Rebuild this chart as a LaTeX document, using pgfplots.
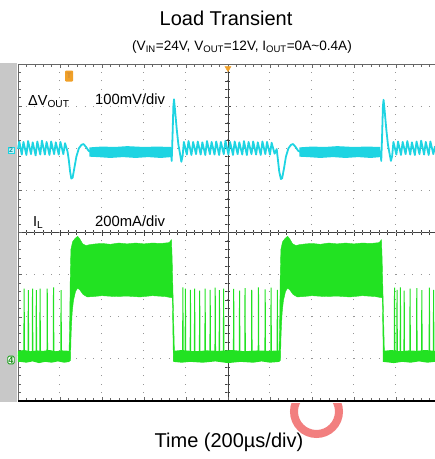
\documentclass[border=0pt]{standalone}
\usepackage{pgfplots}
\pgfplotsset{compat=1.18}
\usepackage{fontspec}
\setmainfont{Liberation Sans}
\definecolor{scopecyan}{RGB}{30,212,226}
\definecolor{scopegreen}{RGB}{34,226,34}
\definecolor{gridgray}{RGB}{150,150,150}
\definecolor{stripgray}{RGB}{200,200,200}
\definecolor{trigorange}{RGB}{240,160,40}
\definecolor{ringred}{RGB}{240,105,105}
\begin{document}
\begin{tikzpicture}
% centre cross of the scope screen
\begin{axis}[at={(0,0)}, anchor=south west, scale only axis, width=417pt, height=337pt,
  xmin=-5, xmax=4.93, ymin=-4, ymax=4,
  axis lines*=middle, axis line style={black!75, line width=0.7pt},
  xtick={-4,...,4}, ytick={-3,...,3},
  minor xtick={-4.8,-4.6,...,4.8}, minor ytick={-3.8,-3.6,...,3.8},
  xticklabels={}, yticklabels={},
  tick align=center, major tick length=6pt, minor tick length=5pt,
  every tick/.style={black!75, line width=0.6pt},
  clip=false]
\addplot[draw=none, forget plot] coordinates {(0,0)};
\end{axis}
% main screen
\begin{axis}[at={(0,0)}, anchor=south west, scale only axis, width=417pt, height=337pt,
  xmin=0, xmax=9.93, ymin=-4, ymax=4,
  axis x line*=box, axis y line*=left,
  axis line style={black!60, line width=0.8pt},
  xtick={1,...,9}, ytick={-3,...,3},
  minor xtick={0.2,0.4,...,9.8}, minor ytick={-3.8,-3.6,...,3.8},
  xticklabels={}, yticklabels={},
  tick align=inside, major tick length=4pt, minor tick length=3pt,
  every tick/.style={black!60, line width=0.5pt},
  grid=major,
  x grid style={gridgray, line width=1pt, dash pattern=on 1pt off 7.425pt, dash phase=0.5pt},
  y grid style={gridgray, line width=1pt, dash pattern=on 1pt off 7.4pt, dash phase=0.5pt},
  clip=false]
% grey strip on the left of the screen
\addplot[fill=stripgray, draw=none, forget plot] coordinates {(-0.43,-4.02)(-0.02,-4.02)(-0.02,4.03)(-0.43,4.03)};
% bottom border
\addplot[black, line width=1.8pt, forget plot] coordinates {(0,-4)(9.93,-4)};
% trigger marker at top
\addplot[only marks, mark=triangle*, mark size=3.5pt, mark options={rotate=180, fill=trigorange, draw=trigorange}, forget plot] coordinates {(5,3.9)};

% ---- channel 2: Delta V_OUT (cyan) ----
\addplot[fill=scopecyan, draw=none, forget plot] coordinates {(1.70,2.02)(2.0,2.04)(2.3,2.03)(2.6,2.05)(3.0,2.03)(3.3,2.04)(3.64,2.03)(3.64,1.79)(3.4,1.77)(3.1,1.79)(2.8,1.77)(2.5,1.79)(2.2,1.77)(1.9,1.79)(1.70,1.80)};
\addplot[fill=scopecyan, draw=none, forget plot] coordinates {(6.70,2.02)(7.0,2.04)(7.3,2.03)(7.6,2.05)(8.0,2.03)(8.3,2.04)(8.63,2.03)(8.63,1.79)(8.4,1.77)(8.1,1.79)(7.8,1.77)(7.5,1.79)(7.2,1.77)(6.9,1.79)(6.70,1.80)};
\addplot[scopecyan, line width=1.8pt, line join=round, forget plot] coordinates {
(0.00,1.98)(0.03,2.16)(0.09,1.85)(0.13,2.15)(0.20,1.84)(0.24,2.17)(0.31,1.86)(0.35,2.14)(0.42,1.83)(0.46,2.16)(0.53,1.85)(0.57,2.18)(0.64,1.85)(0.68,2.15)(0.75,1.84)(0.79,2.16)(0.86,1.86)(0.90,2.14)(0.97,1.85)(1.01,2.15)(1.08,1.86)(1.12,2.12)(1.18,1.92)
(1.21,1.72)(1.24,1.45)(1.27,1.28)(1.30,1.30)(1.34,1.52)(1.39,1.80)(1.45,2.00)(1.51,2.08)(1.56,2.10)(1.62,2.03)(1.68,1.94)(1.72,1.92)
(3.64,1.92)
(3.66,1.70)(3.68,2.30)(3.70,3.00)(3.715,3.16)(3.74,2.90)(3.78,2.45)(3.82,2.08)(3.86,1.86)(3.89,1.68)(3.92,1.82)(3.95,2.15)
(4.02,1.85)(4.06,2.17)(4.13,1.84)(4.17,2.15)(4.24,1.86)(4.28,2.16)(4.35,1.85)(4.39,2.14)(4.46,1.84)(4.50,2.17)(4.57,1.86)(4.61,2.15)(4.68,1.85)(4.72,2.16)(4.79,1.84)(4.83,2.15)(4.90,1.86)(4.94,2.18)(5.01,1.85)(5.05,2.15)(5.12,1.84)(5.16,2.16)(5.23,1.86)(5.27,2.14)(5.34,1.85)(5.38,2.17)(5.45,1.84)(5.49,2.15)(5.56,1.86)(5.60,2.16)(5.67,1.85)(5.71,2.14)(5.78,1.84)(5.82,2.16)(5.89,1.86)(5.93,2.15)(6.00,1.85)(6.04,2.13)(6.11,1.87)(6.16,1.98)
(6.19,1.72)(6.22,1.45)(6.26,1.27)(6.29,1.29)(6.33,1.50)(6.38,1.80)(6.44,2.00)(6.50,2.08)(6.55,2.10)(6.61,2.03)(6.67,1.94)(6.71,1.92)
(8.63,1.92)
(8.65,1.70)(8.67,2.30)(8.69,3.00)(8.705,3.15)(8.73,2.90)(8.77,2.45)(8.81,2.08)(8.85,1.86)(8.88,1.70)(8.91,1.82)(8.94,2.15)
(9.01,1.85)(9.05,2.16)(9.12,1.84)(9.16,2.15)(9.23,1.86)(9.27,2.17)(9.34,1.85)(9.38,2.14)(9.45,1.84)(9.49,2.16)(9.56,1.86)(9.60,2.18)(9.67,1.85)(9.71,2.15)(9.78,1.84)(9.82,2.16)(9.89,1.86)(9.93,2.05)};

% ---- channel 4: I_L (green) ----
% light-load baseline bands
\addplot[fill=scopegreen, draw=none, forget plot] coordinates {(0,-2.81)(0.15,-2.79)(0.3,-2.82)(0.45,-2.80)(0.6,-2.81)(0.75,-2.79)(0.9,-2.82)(1.05,-2.80)(1.23,-2.81)(1.23,-3.07)(1.1,-3.09)(0.95,-3.06)(0.8,-3.09)(0.65,-3.07)(0.5,-3.10)(0.35,-3.06)(0.2,-3.09)(0.05,-3.07)(0,-3.08)};
\addplot[fill=scopegreen, draw=none, forget plot] coordinates {(3.70,-2.81)(3.9,-2.79)(4.2,-2.82)(4.5,-2.80)(4.8,-2.81)(5.1,-2.79)(5.4,-2.82)(5.7,-2.80)(6.0,-2.81)(6.23,-2.80)(6.23,-3.07)(6.0,-3.09)(5.8,-3.06)(5.6,-3.09)(5.3,-3.07)(5.0,-3.10)(4.7,-3.06)(4.4,-3.09)(4.1,-3.07)(3.9,-3.09)(3.70,-3.07)};
\addplot[fill=scopegreen, draw=none, forget plot] coordinates {(8.69,-2.81)(8.9,-2.79)(9.1,-2.82)(9.3,-2.80)(9.5,-2.81)(9.7,-2.79)(9.93,-2.81)(9.93,-3.07)(9.75,-3.09)(9.55,-3.06)(9.35,-3.09)(9.15,-3.07)(8.95,-3.10)(8.69,-3.07)};
% heavy-load bands
\addplot[fill=scopegreen, draw=scopegreen, line width=0.4pt, forget plot] coordinates {(1.21,-3.05)(1.23,-2.2)(1.245,-1.0)(1.26,-0.40)(1.30,-0.22)(1.36,-0.14)(1.42,-0.09)(1.47,-0.15)(1.54,-0.27)(1.62,-0.31)(1.70,-0.29)(1.85,-0.27)(2.0,-0.26)(2.2,-0.28)(2.4,-0.25)(2.6,-0.27)(2.8,-0.25)(3.0,-0.27)(3.2,-0.25)(3.4,-0.26)(3.6,-0.24)(3.655,-0.17)(3.67,-0.6)(3.70,-1.8)(3.73,-3.05)(3.70,-3.05)(3.675,-1.55)(3.5,-1.52)(3.2,-1.50)(2.9,-1.53)(2.6,-1.51)(2.3,-1.52)(2.0,-1.50)(1.8,-1.52)(1.65,-1.53)(1.55,-1.47)(1.47,-1.36)(1.42,-1.32)(1.37,-1.40)(1.32,-1.62)(1.29,-1.90)(1.265,-2.4)(1.25,-3.05)};
\addplot[fill=scopegreen, draw=scopegreen, line width=0.4pt, forget plot] coordinates {(6.21,-3.05)(6.23,-2.2)(6.245,-1.0)(6.26,-0.40)(6.30,-0.22)(6.36,-0.14)(6.42,-0.09)(6.47,-0.15)(6.54,-0.27)(6.62,-0.31)(6.70,-0.29)(6.85,-0.27)(7.0,-0.26)(7.2,-0.28)(7.4,-0.25)(7.6,-0.27)(7.8,-0.25)(8.0,-0.27)(8.2,-0.25)(8.4,-0.26)(8.6,-0.24)(8.655,-0.17)(8.67,-0.6)(8.70,-1.8)(8.73,-3.05)(8.70,-3.05)(8.675,-1.55)(8.5,-1.52)(8.2,-1.50)(7.9,-1.53)(7.6,-1.51)(7.3,-1.52)(7.0,-1.50)(6.8,-1.52)(6.65,-1.53)(6.55,-1.47)(6.47,-1.36)(6.42,-1.32)(6.37,-1.40)(6.32,-1.62)(6.29,-1.90)(6.265,-2.4)(6.25,-3.05)};
% pulse-skipping spikes
\addplot[scopegreen, line width=1pt, forget plot] coordinates {(0,-2.92)
(0.14,-2.92)(0.146,-1.33)(0.154,-2.92)(0.24,-2.92)(0.246,-1.37)(0.254,-2.92)(0.34,-2.92)(0.346,-1.33)(0.354,-2.92)(0.43,-2.92)(0.436,-1.37)(0.444,-2.92)(0.52,-2.92)(0.526,-1.33)(0.534,-2.92)(0.69,-2.92)(0.696,-1.33)(0.704,-2.92)(0.84,-2.92)(0.846,-1.30)(0.854,-2.92)(1.02,-2.92)(1.026,-1.37)(1.034,-2.92)(1.22,-2.92)};
\addplot[scopegreen, line width=1pt, forget plot] coordinates {(3.72,-2.92)
(3.92,-2.92)(3.926,-1.30)(3.934,-2.92)(3.98,-2.92)(3.986,-1.33)(3.994,-2.92)(4.10,-2.92)(4.106,-1.36)(4.114,-2.92)(4.20,-2.92)(4.206,-1.33)(4.214,-2.92)(4.32,-2.92)(4.326,-1.38)(4.334,-2.92)(4.45,-2.92)(4.456,-1.33)(4.464,-2.92)(4.57,-2.92)(4.576,-1.36)(4.584,-2.92)(4.69,-2.92)(4.696,-1.31)(4.704,-2.92)(4.79,-2.92)(4.796,-1.37)(4.804,-2.92)(4.89,-2.92)(4.896,-1.33)(4.904,-2.92)(5.13,-2.92)(5.136,-1.34)(5.144,-2.92)(5.27,-2.92)(5.276,-1.38)(5.284,-2.92)(5.40,-2.92)(5.406,-1.32)(5.414,-2.92)(5.56,-2.92)(5.566,-1.36)(5.574,-2.92)(5.72,-2.92)(5.726,-1.30)(5.734,-2.92)(5.88,-2.92)(5.886,-1.35)(5.894,-2.92)(6.02,-2.92)(6.026,-1.31)(6.034,-2.92)(6.17,-2.92)(6.176,-1.36)(6.184,-2.92)(6.22,-2.92)};
\addplot[scopegreen, line width=1pt, forget plot] coordinates {(8.72,-2.92)
(8.96,-2.92)(8.966,-1.31)(8.974,-2.92)(9.02,-2.92)(9.026,-1.36)(9.034,-2.92)(9.10,-2.92)(9.106,-1.30)(9.114,-2.92)(9.19,-2.92)(9.196,-1.38)(9.204,-2.92)(9.33,-2.92)(9.336,-1.33)(9.344,-2.92)(9.49,-2.92)(9.496,-1.32)(9.504,-2.92)(9.61,-2.92)(9.616,-1.37)(9.624,-2.92)(9.79,-2.92)(9.796,-1.31)(9.804,-2.92)(9.89,-2.92)(9.896,-1.36)(9.904,-2.92)(9.93,-2.92)};
\end{axis}

% channel markers and trigger marker
\node[draw=scopecyan, fill=scopecyan!25, text=scopecyan!70!black, inner sep=0.8pt, font=\fontsize{7}{8}\selectfont\bfseries] at (-7pt,251pt) {2};
\node[draw=scopegreen!70!black, fill=white, text=scopegreen!60!black, rounded corners=1.5pt, line width=0.8pt, inner sep=0.8pt, font=\fontsize{9}{10}\selectfont\bfseries] at (-7pt,41pt) {4};
\node[fill=trigorange, text=trigorange!40!brown, rounded corners=1pt, inner sep=1pt, minimum width=8pt, minimum height=11pt, font=\fontsize{8}{9}\selectfont\bfseries] at (51pt,325pt) {T};

% texts
\node[anchor=base, font=\fontsize{20}{24}\selectfont] at (208pt,375pt) {Load Transient};
\node[anchor=base, font=\fontsize{13.6}{15}\selectfont] at (224pt,351pt) {(V\textsubscript{IN}=24V, V\textsubscript{OUT}=12V, I\textsubscript{OUT}=0A\textasciitilde 0.4A)};
\node[anchor=base west, inner sep=0pt, font=\fontsize{14.5}{17}\selectfont] at (10pt,296pt) {ΔV\textsubscript{OUT}};
\node[anchor=base west, inner sep=0pt, font=\fontsize{14.8}{17}\selectfont] at (77pt,296.5pt) {100mV/div};
\node[anchor=base west, inner sep=0pt, font=\fontsize{14.5}{17}\selectfont] at (15pt,175pt) {I\textsubscript{L}};
\node[anchor=base west, inner sep=0pt, font=\fontsize{14.8}{17}\selectfont] at (77pt,175pt) {200mA/div};
\node[anchor=base, font=\fontsize{20}{24}\selectfont] at (211pt,-46pt) {Time (200µs/div)};

% red cursor ring below the screen
\begin{scope}
\clip (250pt,-2.5pt) rectangle (350pt,-60pt);
\draw[ringred, line width=8pt, opacity=0.85] (298.5pt,-10.5pt) circle (22.5pt);
\end{scope}

\pgfresetboundingbox
\path[use as bounding box] (-18pt,-58pt) rectangle (417pt,401pt);
\end{tikzpicture}
\end{document}
